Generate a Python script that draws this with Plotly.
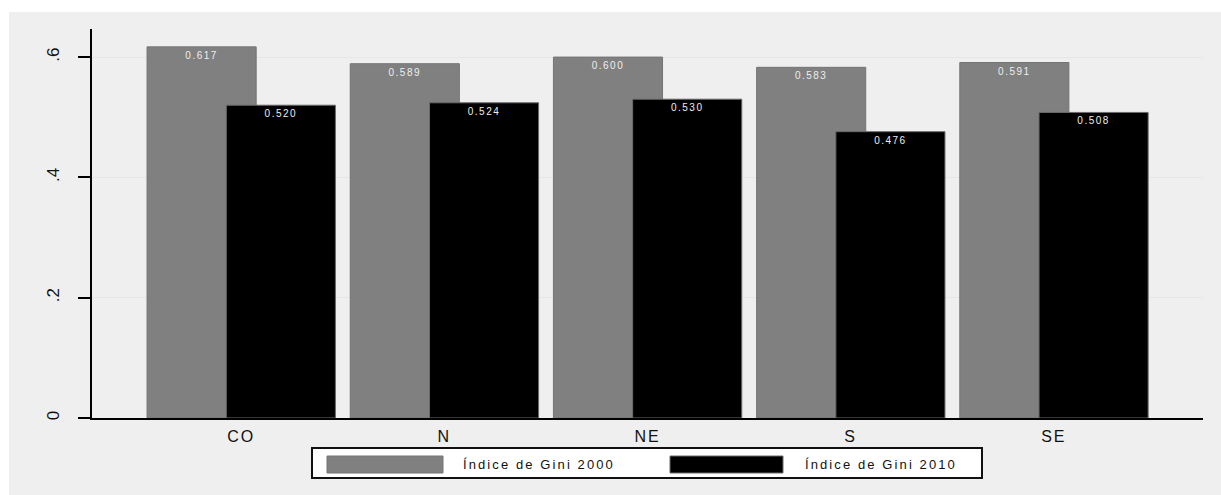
import plotly.graph_objects as go

# Gini index by region, 2000 vs 2010
regions = ["CO", "N", "NE", "S", "SE"]
gini_2000 = [0.617, 0.589, 0.600, 0.583, 0.591]
gini_2010 = [0.520, 0.524, 0.530, 0.476, 0.508]
series_names = ["Índice de Gini 2000", "Índice de Gini 2010"]
ytick_vals = [0, 0.2, 0.4, 0.6]
ytick_text = ["0", ".2", ".4", ".6"]

W, H = 1221, 495
L, R, T, B = 92, 1203, 29, 418  # plot area in pixels
FONT = "Liberation Sans, Arial, sans-serif"
GRAY = "#808080"
BG = "#efefef"


def px(x):
    return (x - L) / (R - L)


def py(y):
    return (B - y) / (B - T)


def spaced(s, ls):
    return f'<span style="letter-spacing:{ls}px">{s}</span>'


xs = list(range(len(regions)))
bar_w = 0.537

fig = go.Figure()
fig.add_trace(go.Bar(
    x=xs, y=gini_2000, name=series_names[0],
    width=bar_w, offset=-0.463,
    marker=dict(color=GRAY, line=dict(color="#747474", width=1)),
    text=[spaced(f"{v:.3f}", 1.5) for v in gini_2000],
    textposition="inside", insidetextanchor="end", textangle=0,
    textfont=dict(family=FONT, size=10, color="#eeeeee"),
))
fig.add_trace(go.Bar(
    x=xs, y=gini_2010, name=series_names[1],
    width=bar_w, offset=-0.073,
    marker=dict(color="#000000", line=dict(color="#6a6a6a", width=1)),
    text=[spaced(f"{v:.3f}", 1.5) for v in gini_2010],
    textposition="inside", insidetextanchor="end", textangle=0,
    textfont=dict(family=FONT, size=10, color="#eeeeee"),
))

shapes = [
    # outer graph region
    dict(type="rect", xref="paper", yref="paper", layer="below",
         x0=px(9), x1=px(W + 2), y0=py(H + 2), y1=py(12),
         fillcolor=BG, line=dict(width=0)),
    # legend frame
    dict(type="rect", xref="paper", yref="paper",
         x0=px(312), x1=px(982), y0=py(478), y1=py(448),
         fillcolor="white", line=dict(color="#111111", width=2)),
    # legend keys
    dict(type="rect", xref="paper", yref="paper",
         x0=px(327), x1=px(443), y0=py(473), y1=py(456),
         fillcolor=GRAY, line=dict(color="#747474", width=1)),
    dict(type="rect", xref="paper", yref="paper",
         x0=px(670), x1=px(783), y0=py(473), y1=py(456),
         fillcolor="#000000", line=dict(color="#6a6a6a", width=1)),
]

annotations = [
    dict(xref="paper", yref="paper", x=px(461), y=py(464.5),
         xanchor="left", yanchor="middle", showarrow=False,
         text=spaced(series_names[0], 2.1),
         font=dict(family=FONT, size=13, color="#111111")),
    dict(xref="paper", yref="paper", x=px(803), y=py(464.5),
         xanchor="left", yanchor="middle", showarrow=False,
         text=spaced(series_names[1], 2.1),
         font=dict(family=FONT, size=13, color="#111111")),
]

fig.update_layout(
    width=W, height=H,
    margin=dict(l=L, r=W - R, t=T, b=H - B, pad=0),
    paper_bgcolor="white", plot_bgcolor="white",
    barmode="overlay", showlegend=False,
    shapes=shapes, annotations=annotations,
    font=dict(family=FONT, color="#111111"),
    xaxis=dict(
        range=[-0.734, 4.734], tickvals=xs,
        ticktext=[spaced(r, 2) for r in regions],
        showgrid=False, zeroline=False, ticks="",
        showline=True, linecolor="#000000", linewidth=1.5,
        tickfont=dict(family=FONT, size=16, color="#111111"),
        ticklabelstandoff=3, fixedrange=True,
    ),
    yaxis=dict(
        range=[0, 0.6467], tickvals=ytick_vals, ticktext=ytick_text,
        tickangle=-90, ticks="outside", ticklen=12, tickwidth=1.5,
        tickcolor="#000000", showline=True, linecolor="#000000",
        linewidth=2, showgrid=True, gridcolor="#e6e6e6", gridwidth=1,
        zeroline=False,
        tickfont=dict(family=FONT, size=17, color="#111111"),
        ticklabelstandoff=12, fixedrange=True,
    ),
)

fig.write_html("out.html")
